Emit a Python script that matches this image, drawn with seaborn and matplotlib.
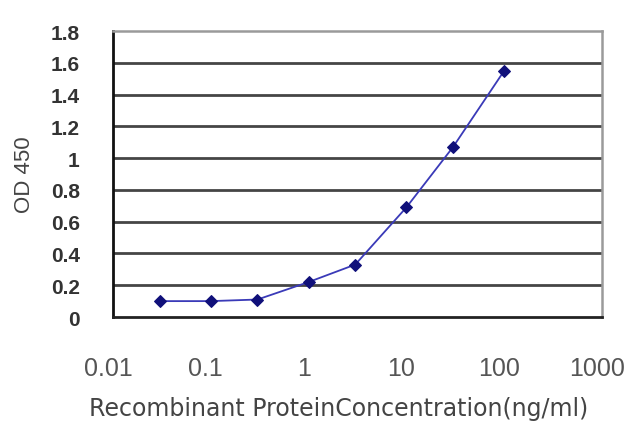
import matplotlib
matplotlib.use("Agg")
import matplotlib.pyplot as plt
import matplotlib.transforms as mtransforms
import seaborn as sns
import pandas as pd

concentration = [0.03, 0.1, 0.3, 1, 3, 10, 30, 100]
od450 = [0.10, 0.10, 0.11, 0.22, 0.33, 0.69, 1.07, 1.55]
x_ticks = [0.01, 0.1, 1, 10, 100, 1000]
x_tick_labels = ["0.01", "0.1", "1", "10", "100", "1000"]
y_ticks = [0, 0.2, 0.4, 0.6, 0.8, 1, 1.2, 1.4, 1.6, 1.8]
y_tick_labels = ["0", "0.2", "0.4", "0.6", "0.8", "1", "1.2", "1.4", "1.6", "1.8"]

df = pd.DataFrame({"conc": concentration, "od": od450})

sns.set_theme(style="white")
plt.rcParams["font.family"] = ["Liberation Sans", "DejaVu Sans"]

fig = plt.figure(figsize=(6.4, 4.27), dpi=100)
ax = fig.add_axes([113/640, 1-318/427, (602-113)/640, (318-32)/427])

sns.lineplot(data=df, x="conc", y="od", ax=ax, color="#3a3ab8", linewidth=1.3,
             marker="D", markersize=6.5, markerfacecolor="#10107a",
             markeredgecolor="#10107a", zorder=5)

ax.set_xscale("log")
ax.set_xlim(0.01, 1000)
ax.set_ylim(0, 1.8)

ax.set_yticks(y_ticks)
ax.set_yticklabels(y_tick_labels, fontsize=15, color="#333333", fontweight="semibold")
ax.set_xticks(x_ticks)
ax.set_xticklabels(x_tick_labels, fontsize=18, color="#555555")
ax.xaxis.set_minor_locator(matplotlib.ticker.NullLocator())

ax.tick_params(axis="y", length=0, pad=24)
ax.tick_params(axis="x", direction="in", length=4, width=1.2, color="#333333", pad=28)

for lbl in ax.get_xticklabels():
    lbl.set_transform(lbl.get_transform() + mtransforms.ScaledTranslation(-5/100, 0, fig.dpi_scale_trans))

for yv in y_ticks[1:-1]:
    ax.axhline(yv, color="#454545", linewidth=2.0, zorder=1)

ax.spines["left"].set_color("#111111")
ax.spines["left"].set_linewidth(2.0)
ax.spines["bottom"].set_color("#222222")
ax.spines["bottom"].set_linewidth(2.0)
ax.spines["top"].set_color("#9a9a9a")
ax.spines["top"].set_linewidth(1.8)
ax.spines["right"].set_color("#9a9a9a")
ax.spines["right"].set_linewidth(1.8)

ax.set_ylabel("OD 450", fontsize=16, color="#444444")
ax.yaxis.set_label_coords(-0.16, 0.5)
ax.set_xlabel("Recombinant ProteinConcentration(ng/ml)", fontsize=17,
              color="#444444", family=["DejaVu Sans"], va="center")
ax.xaxis.set_label_coords(0.462, -0.318)

fig.savefig("out.png", dpi=100, facecolor="white")
